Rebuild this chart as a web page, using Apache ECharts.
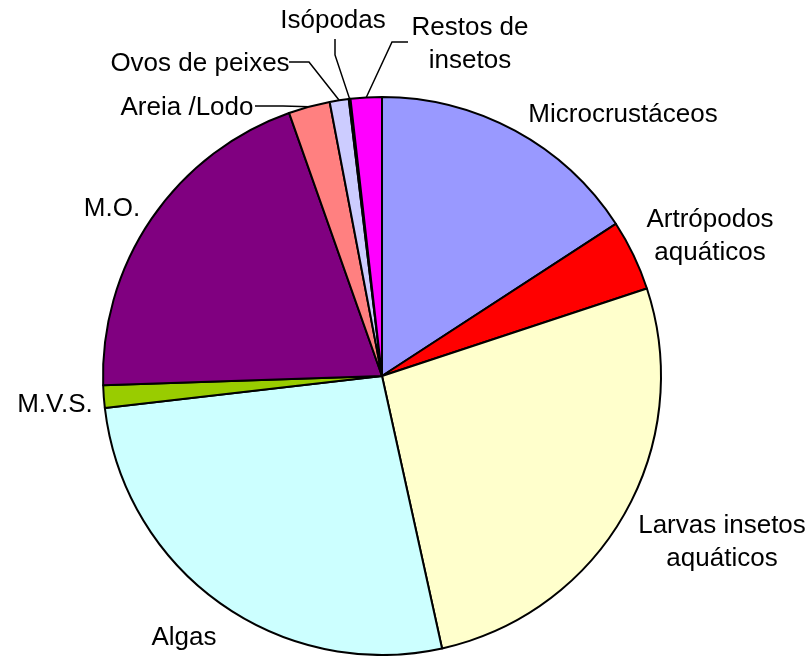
<!DOCTYPE html>
<html>
<head>
<meta charset="utf-8">
<script src="https://cdn.jsdelivr.net/npm/echarts@6/dist/echarts.min.js"></script>
<style>
  html, body { margin: 0; padding: 0; background: #fff; }
  #chart { width: 811px; height: 656px; }
</style>
</head>
<body>
<div id="chart"></div>
<script>
// categorias (sentido horário a partir do topo)
var categories = ['Microcrustáceos', 'Artrópodos aquáticos', 'Larvas insetos aquáticos', 'Algas',
  'M.V.S.', 'M.O.', 'Areia /Lodo', 'Ovos de peixes', 'Isópodas', 'Restos de insetos'];
// valores (%)
var values = [15.8, 4.1, 26.6, 26.6, 1.3, 20.1, 2.4, 1.1, 0.1, 1.8];
// texto dos rótulos (com quebra de linha)
var labelText = ['Microcrustáceos', 'Artrópodos\naquáticos', 'Larvas insetos\naquáticos', 'Algas',
  'M.V.S.', 'M.O.', 'Areia /Lodo', 'Ovos de peixes', 'Isópodas', 'Restos de\ninsetos'];
var colors = ['#9999FF', '#FF0000', '#FFFFCC', '#CCFFFF', '#99CC00', '#800080', '#FF8080', '#CCCCFF', '#00FF00', '#FF00FF'];

// posição dos rótulos (centro do texto)
var labelPos = [[623, 115], [710, 236], [722, 542], [184, 638], [55, 405], [112, 209],
  [187, 108], [200, 64], [333, 21], [470, 44]];
// linhas de chamada: [ponto de dobra, ponto final junto ao texto]
var leader = {
  6: [[283, 106], [255, 106]],
  7: [[309, 62], [289, 62]],
  8: [[335, 55], [335, 39]],
  9: [[392, 42], [408, 42]]
};

var chart = echarts.init(document.getElementById('chart'));

var data = categories.map(function (name, i) {
  return {
    name: name,
    value: values[i],
    itemStyle: { color: colors[i] },
    label: { formatter: labelText[i] },
    labelLine: { show: !!leader[i] }
  };
});

var option = {
  animation: false,
  series: [{
    type: 'pie',
    center: [382, 376],
    radius: 279,
    startAngle: 90,
    clockwise: true,
    avoidLabelOverlap: false,
    minShowLabelAngle: 0,
    itemStyle: { borderColor: '#000', borderWidth: 2 },
    label: {
      show: true,
      position: 'outside',
      color: '#000',
      fontFamily: '"Liberation Sans", Arial, sans-serif',
      fontSize: 26,
      lineHeight: 33,
      align: 'center',
      overflow: 'none'
    },
    labelLine: {
      lineStyle: { color: '#000', width: 1.5 }
    },
    // rótulos posicionados como no original
    labelLayout: function (params) {
      var i = params.dataIndex;
      var res = {
        x: labelPos[i][0],
        y: labelPos[i][1],
        align: 'center',
        verticalAlign: 'middle',
        hideOverlap: false
      };
      if (leader[i] && params.labelLinePoints) {
        res.labelLinePoints = [params.labelLinePoints[0], leader[i][0], leader[i][1]];
      }
      return res;
    },
    emphasis: { disabled: true },
    data: data
  }]
};

chart.setOption(option);
</script>
</body>
</html>
